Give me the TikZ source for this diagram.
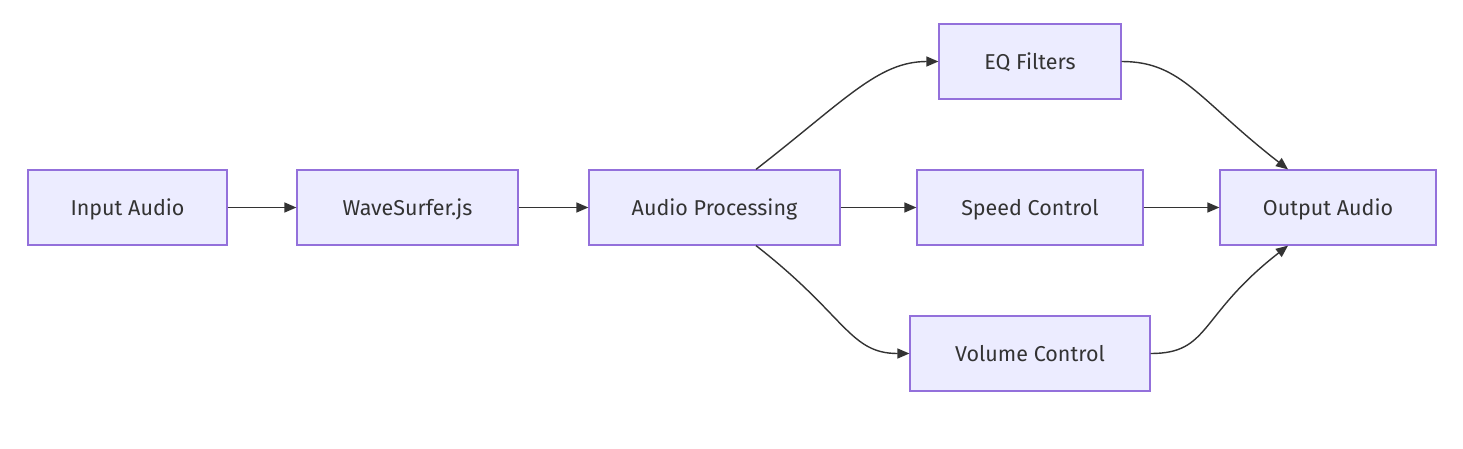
\documentclass[tikz,border=0pt]{standalone}
\usepackage{fontspec}
\setmainfont{Fira Sans}
\usetikzlibrary{arrows.meta}
\definecolor{boxfill}{HTML}{ECECFF}
\definecolor{boxline}{HTML}{9370DB}
\definecolor{edge}{HTML}{333333}
\begin{document}
\begin{tikzpicture}
[x=1pt, y=1pt,
 every node/.style={inner sep=0pt, font=\fontsize{21.5}{25}\selectfont, text=edge},
 stage/.style={rectangle, minimum height=75pt, text height=18pt, text depth=2pt, fill=boxfill, draw=boxline, line width=1.25pt},
 flow/.style={line width=1.4pt, -{Triangle[length=12pt, width=10pt]}, color=edge}]
\useasboundingbox (0,0) rectangle (1463,-448);
\node (input) [stage, minimum width=199pt] at (127.5, -207.5) {Input Audio};
\node (wave) [stage, minimum width=221pt] at (407.5, -207.5) {WaveSurfer.js};
\node (proc) [stage, minimum width=251pt] at (714.5, -207.5) {Audio Processing};
\node (eq) [stage, minimum width=182pt] at (1030, -61.5) {EQ Filters};
\node (speed) [stage, minimum width=226pt] at (1030, -207.5) {Speed Control};
\node (vol) [stage, minimum width=240pt] at (1030, -353.5) {Volume Control};
\node (out) [stage, minimum width=216pt] at (1328, -207.5) {Output Audio};
\coordinate (procup) at ([xshift=41.5pt]proc.north);
\coordinate (procdown) at ([xshift=41.5pt]proc.south);
\coordinate (outup) at ([xshift=-40pt]out.north);
\coordinate (outdown) at ([xshift=-40pt]out.south);
\draw [flow] (input) to (wave);
\draw [flow] (wave) to (proc);
\draw [flow] (proc) to (speed);
\draw [flow] (speed) to (out);
\draw [flow] (procup) .. controls +(90,70) and +(-60,0) .. (eq.west);
\draw [flow] (procdown) .. controls +(90,-70) and +(-60,0) .. (vol.west);
\draw [flow] (eq.east) .. controls +(60,0) and +(-90,70) .. (outup);
\draw [flow] (vol.east) .. controls +(60,0) and +(-90,-70) .. (outdown);
\end{tikzpicture}
\end{document}
